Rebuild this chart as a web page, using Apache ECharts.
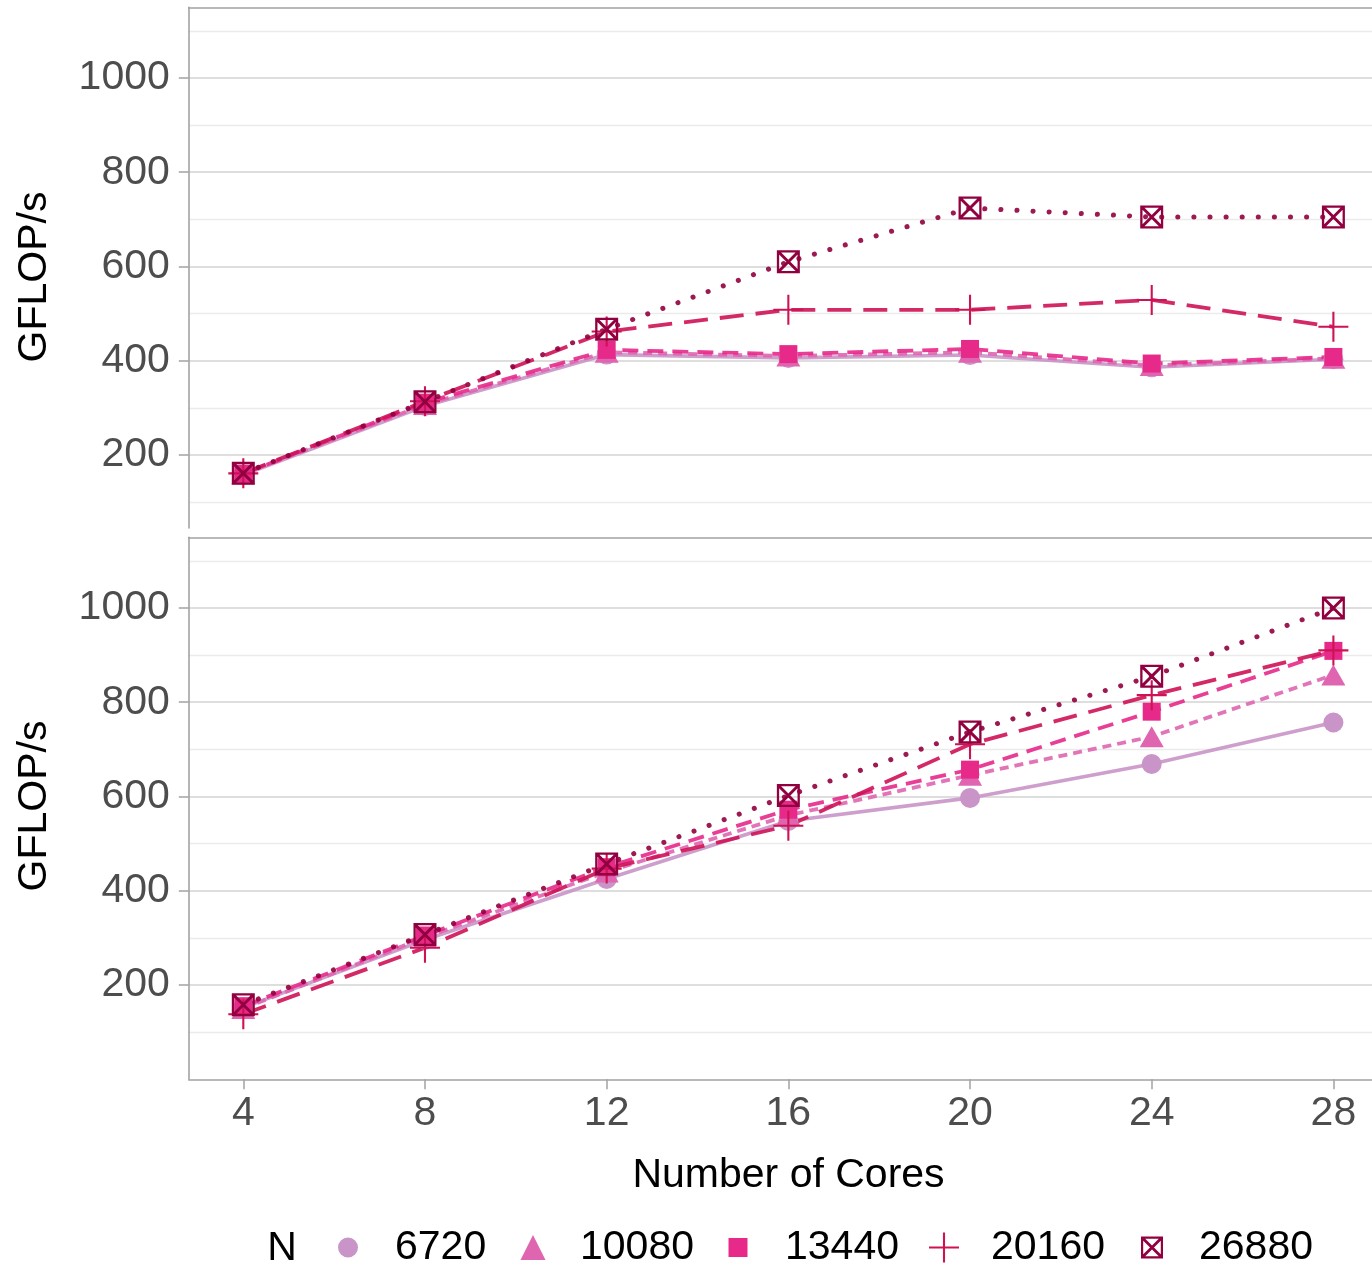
<!DOCTYPE html>
<html><head><meta charset="utf-8">
<script src="https://cdn.jsdelivr.net/npm/echarts@6/dist/echarts.min.js"></script>
<style>html,body{margin:0;padding:0;background:#fff}#c{width:1372px;height:1264px}</style>
</head><body><div id="c"></div>
<script>
// ---- data ----
const cores = [4, 8, 12, 16, 20, 24, 28];
const seriesNames = ['6720', '10080', '13440', '20160', '26880'];
// top panel
const top6720  = [158, 304, 413, 406, 412, 386, 403];
const top10080 = [160, 307, 418, 410, 418, 390, 405];
const top13440 = [160, 311, 423, 414, 425, 394, 408];
const top20160 = [161, 314, 462, 508, 508, 529, 472];
const top26880 = [161, 313, 467, 610, 724, 705, 705];
// bottom panel
const bot6720  = [152, 296, 425, 548, 597, 669, 757];
const bot10080 = [150, 301, 440, 560, 645, 727, 858];
const bot13440 = [155, 305, 450, 572, 657, 780, 909];
const bot20160 = [138, 279, 447, 538, 711, 815, 910];
const bot26880 = [158, 307, 457, 602, 737, 855, 1000];
// ticks
const xTicks = [4, 8, 12, 16, 20, 24, 28];
const yTicks = [200, 400, 600, 800, 1000];
const yMinor = [100, 300, 500, 700, 900, 1100];

// ---- styling ----
const FONT = '"Liberation Sans", Arial, sans-serif';
const colors = ['#c994c7', '#df65b0', '#e7298a', '#ce1256', '#91003f'];
const dashes = ['solid', [9, 6], [16, 9], [24, 12], [0.1, 16]];
const widths = [3.6, 3.8, 3.8, 3.8, 5];
const PLUS = 'path://M46.5 0L53.5 0L53.5 46.5L100 46.5L100 53.5L53.5 53.5L53.5 100L46.5 100L46.5 53.5L0 53.5L0 46.5L46.5 46.5Z';
const SQX = 'path://M0 0L100 0L100 100L0 100Z M10 10L10 90L90 90L90 10Z M0 0L9 0L100 91L100 100L91 100L0 9Z M91 0L100 0L100 9L9 100L0 100L0 91Z';
const symbols = ['circle', 'triangle', 'rect', PLUS, SQX];
const symSizes = [20, [24, 21], 18, 30, 23];
const legendH = [20, 25, 19, 30, 22];
const legendCx = [348, 533, 738, 944, 1152];

const topData = [top6720, top10080, top13440, top20160, top26880];
const botData = [bot6720, bot10080, bot13440, bot20160, bot26880];

function build(dataSets, xi, yi) {
  const out = [];
  dataSets.forEach((vals, k) => {
    const pts = cores.map((c, i) => [c, vals[i]]);
    out.push({
      type: 'line', name: seriesNames[k], xAxisIndex: xi, yAxisIndex: yi,
      data: pts, symbol: 'none', showSymbol: false, z: 2, silent: true,
      itemStyle: { color: colors[k] },
      lineStyle: { color: colors[k], width: widths[k], type: dashes[k], cap: k === 4 ? 'round' : 'butt', opacity: 0.9 }
    });
  });
  dataSets.forEach((vals, k) => {
    const pts = cores.map((c, i) => [c, vals[i]]);
    out.push({
      type: 'scatter', name: seriesNames[k], xAxisIndex: xi, yAxisIndex: yi,
      data: pts, symbol: symbols[k], symbolSize: symSizes[k], z: 3, silent: true,
      itemStyle: { color: colors[k], opacity: 1 }
    });
  });
  return out;
}

const axisGray = '#a3a3a3';
function xAxisCfg(grid, pos, labels) {
  return {
    type: 'value', gridIndex: grid, position: pos, min: 2.8, max: 29.2,
    axisLine: { show: true, onZero: false, lineStyle: { color: axisGray, width: 1.6 } },
    axisTick: { show: labels, length: 10, customValues: xTicks, lineStyle: { color: axisGray, width: 1.5 } },
    axisLabel: { show: labels, customValues: xTicks, fontSize: 41, color: '#4d4d4d', fontFamily: FONT, margin: 14, formatter: v => String(v) },
    splitLine: { show: false }
  };
}
function yMain(grid, min) {
  return {
    type: 'value', gridIndex: grid, position: 'left', min: min, max: 1150,
    axisLine: { show: true, onZero: false, lineStyle: { color: axisGray, width: 1.6 } },
    axisTick: { show: true, length: 10, customValues: yTicks, lineStyle: { color: axisGray, width: 1.5 } },
    axisLabel: { show: true, customValues: yTicks, fontSize: 41, color: '#4d4d4d', fontFamily: FONT, margin: 19, padding: [4, 0, 0, 0], formatter: v => String(v) },
    splitLine: { show: true, lineStyle: { color: '#dedede', width: 2 } }
  };
}
function yMinorAx(grid, min) {
  return {
    type: 'value', gridIndex: grid, position: 'left', min: min, max: 1150,
    axisLine: { show: false, onZero: false },
    axisTick: { show: false, customValues: yMinor },
    axisLabel: { show: false },
    splitLine: { show: true, lineStyle: { color: '#ebebeb', width: 1.3 } }
  };
}

const legends = seriesNames.map((n, k) => ({
  data: [{ name: n, icon: symbols[k], itemStyle: { color: colors[k] } }],
  left: legendCx[k] - legendH[k] / 2, top: 1227,
  itemWidth: legendH[k], itemHeight: legendH[k], padding: 0, selectedMode: false,
  textStyle: { fontSize: 41, color: '#000', fontFamily: FONT, padding: [0, 0, 0, 42 - legendH[k] / 2] }
}));

const chart = echarts.init(document.getElementById('c'), null, { renderer: 'canvas' });
chart.setOption({
  animation: false,
  backgroundColor: '#fff',
  grid: [
    { left: 188.8, top: 7.3, width: 1199.1, height: 520.7, containLabel: false, outerBoundsMode: 'none' },
    { left: 188.8, top: 537.3, width: 1199.1, height: 541.95, containLabel: false, outerBoundsMode: 'none' }
  ],
  xAxis: [
    xAxisCfg(0, 'top', false),
    xAxisCfg(1, 'bottom', true),
    xAxisCfg(1, 'top', false)
  ],
  yAxis: [yMain(0, 45), yMinorAx(0, 45), yMain(1, 0), yMinorAx(1, 0)],
  legend: legends,
  graphic: [
    { type: 'text', x: 35, y: 277, rotation: Math.PI / 2, style: { text: 'GFLOP/s', font: '41px ' + FONT, fill: '#000', align: 'center', verticalAlign: 'middle' } },
    { type: 'text', x: 35, y: 806, rotation: Math.PI / 2, style: { text: 'GFLOP/s', font: '41px ' + FONT, fill: '#000', align: 'center', verticalAlign: 'middle' } },
    { type: 'text', x: 788.5, y: 1176, style: { text: 'Number of Cores', font: '41px ' + FONT, fill: '#000', align: 'center', verticalAlign: 'middle' } },
    { type: 'text', x: 282, y: 1249, style: { text: 'N', font: '41px ' + FONT, fill: '#000', align: 'center', verticalAlign: 'middle' } }
  ],
  series: [].concat(build(topData, 0, 0), build(botData, 1, 2))
});
</script>
</body></html>
